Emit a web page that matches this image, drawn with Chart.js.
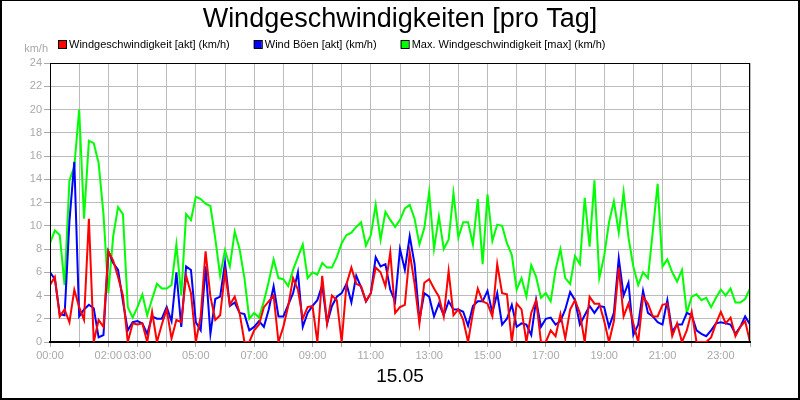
<!DOCTYPE html>
<html>
<head>
<meta charset="utf-8">
<script src="https://cdn.jsdelivr.net/npm/chart.js@4.4.1/dist/chart.umd.min.js"></script>
<style>
html,body{margin:0;padding:0;background:#fff;}
#wrap{width:800px;height:400px;position:relative;}
</style>
</head>
<body>
<div id="wrap"><canvas id="c" width="800" height="400"></canvas></div>
<script>
// ---- data ----
const titleText = 'Windgeschwindigkeiten [pro Tag]';
const dateLabel = '15.05';
const unitLabel = 'km/h';
const seriesNames = [
  'Windgeschwindigkeit [akt] (km/h)',
  'Wind Böen [akt] (km/h)',
  'Max. Windgeschwindigkeit [max] (km/h)'
];
const seriesColors = ['#ff0000', '#0000ff', '#00ff00'];
const stepMinutes = 10;                       // one value every 10 minutes, 00:00 .. 24:00
const labeledHours = [0, 2, 3, 5, 7, 9, 11, 13, 15, 17, 19, 21, 23];
const yMax = 24, yStep = 2;

const windAkt = [
  4.9,5.6,2.2,2.8,1.7,4.5,3.0,1.9,10.6,0,1.9,1.3,
  7.8,7.0,5.6,4.0,0,1.6,1.5,1.6,0,2.6,0,1.5,
  2.8,0.3,1.9,1.7,5.7,4.2,0,2.2,7.8,3.9,1.9,2.3,
  6.0,3.2,3.9,2.5,0,0,1.0,1.5,3.0,3.5,4.0,0,
  1.3,3.1,5.5,4.5,2.0,3.0,3.1,0,5.7,1.6,4.0,3.6,
  0,5.0,6.4,5.0,4.8,3.5,4.2,6.4,6.0,4.8,7.7,2.5,
  3.0,3.2,7.7,5.0,1.6,5.1,5.4,4.6,3.9,2.2,6.1,2.3,
  2.8,1.9,0,2.5,4.6,3.5,3.3,2.2,6.7,4.2,4.1,0,
  3.3,2.8,0,2.5,3.6,0,0,1.0,0.5,2.4,0.3,2.8,
  3.6,2.5,0,3.9,3.3,3.3,1.8,0,1.8,6.4,2.2,3.3,
  1.6,0,3.9,3.3,2.2,2.2,3.2,3.3,0.5,1.6,0,1.0,
  2.6,0,0,0,0.4,1.6,2.6,1.6,2.1,0.5,1.3,1.8,
  0
];
const windBoeen = [
  6.0,5.4,2.4,2.3,10.4,15.5,2.2,2.8,3.2,2.9,0.4,0.6,
  7.8,6.8,6.2,3.5,1.0,1.7,1.8,1.6,0.7,2.2,2.0,2.0,
  3.0,1.8,6.0,1.3,6.5,6.2,1.7,1.0,6.5,0.7,3.7,3.9,
  6.8,3.1,3.4,2.5,2.4,1.0,1.3,1.8,1.3,2.8,4.8,2.2,
  2.2,3.2,4.2,6.0,1.3,2.5,3.1,3.6,4.9,1.6,3.1,3.9,
  4.2,5.0,3.4,5.7,4.7,3.5,4.2,7.3,6.5,6.7,4.5,3.5,
  8.0,6.2,9.1,6.7,1.9,4.2,3.9,2.2,3.3,2.3,3.5,2.8,
  2.8,2.6,1.4,3.1,3.5,3.5,4.4,2.5,4.2,1.5,2.0,3.2,
  1.3,1.6,1.5,0.6,3.6,1.3,2.0,2.1,1.5,1.8,2.8,4.3,
  3.6,1.5,2.3,3.1,2.5,3.1,3.0,1.3,2.5,7.2,4.0,5.1,
  0.6,1.5,4.4,2.5,2.2,1.7,1.5,3.6,0.9,1.5,1.5,2.5,
  2.3,1.0,0.7,0.5,1.0,1.6,1.7,1.6,1.5,0.7,1.3,2.2,
  1.5
];
const windMax = [
  8.5,9.6,9.2,4.9,13.9,15.1,20.0,10.6,17.3,17.1,15.4,11.0,
  4.2,9.1,11.6,11.0,3.0,2.1,3.0,4.1,2.3,3.7,5.0,4.6,
  4.6,4.9,8.4,4.0,11.0,10.5,12.5,12.3,11.9,11.7,8.9,5.7,
  7.9,6.5,9.5,8.0,5.5,2.0,2.5,2.1,3.5,5.2,7.1,5.5,
  5.4,4.8,6.2,7.3,8.4,5.5,6.0,5.8,6.8,6.4,6.4,7.3,
  8.5,9.2,9.4,9.9,10.3,8.3,9.2,11.8,8.8,11.2,10.5,9.9,
  10.5,11.5,11.8,10.6,8.4,9.8,12.9,8.0,10.8,8.0,8.8,12.8,
  9.0,10.3,10.3,8.4,12.3,6.7,12.7,8.7,10.1,10.0,8.5,7.5,
  4.5,5.5,3.9,6.6,5.6,3.8,4.2,3.5,6.2,8.0,5.5,5.0,
  7.4,6.7,12.4,8.2,13.9,5.5,7.4,10.3,12.1,9.4,12.9,9.0,
  6.5,4.9,6.0,5.5,9.5,13.6,6.5,7.1,6.0,5.2,6.2,2.5,
  3.9,4.1,3.6,3.8,3.0,3.8,4.5,4.0,4.6,3.4,3.4,3.7,
  4.6
];

// ---- helpers ----
const FONT = 'Arial, "Liberation Sans", sans-serif';
const GRID = '#bcbcbc';
const TICKTXT = '#a9a9a9';
Chart.defaults.font.family = FONT;

function toPoints(arr) {
  return arr.map((v, i) => ({ x: i * stepMinutes / 60, y: v }));
}
function hourLabel(h) {
  return String(h).padStart(2, '0') + ':00';
}

const seriesValues = [windAkt, windBoeen, windMax];

const decor = {
  id: 'decor',
  beforeDraw(chart) {
    const ctx = chart.ctx;
    ctx.save();
    ctx.fillStyle = '#ffffff';
    ctx.fillRect(0, 0, chart.width, chart.height);
    ctx.restore();
  },
  afterDraw(chart) {
    const ctx = chart.ctx;
    const a = chart.chartArea;
    ctx.save();
    // plot frame (top/right)
    ctx.strokeStyle = '#000';
    ctx.lineWidth = 1;
    ctx.strokeRect(Math.round(a.left) + 0.5, Math.round(a.top) + 0.5,
                   Math.round(a.right - a.left) - 1, Math.round(a.bottom - a.top));
    // outer frame
    ctx.fillStyle = '#000';
    ctx.fillRect(0, 0, chart.width, 1);
    ctx.fillRect(0, 0, 2, chart.height);
    ctx.fillRect(chart.width - 2, 0, 2, chart.height);
    ctx.fillRect(0, chart.height - 2, chart.width, 2);
    // title
    ctx.fillStyle = '#000';
    ctx.font = '27px ' + FONT;
    ctx.textAlign = 'center';
    ctx.textBaseline = 'alphabetic';
    ctx.fillText(titleText, chart.width / 2, 27);
    // legend
    ctx.font = '11px ' + FONT;
    ctx.textAlign = 'left';
    let x = 58;
    chart.data.datasets.forEach(ds => {
      ctx.fillStyle = ds.borderColor;
      ctx.fillRect(x, 40, 8, 8);
      ctx.strokeStyle = '#000';
      ctx.lineWidth = 1;
      ctx.strokeRect(x + 0.5, 40.5, 8, 8);
      ctx.fillStyle = '#000';
      ctx.fillText(ds.label, x + 11, 48);
      x += 11 + ctx.measureText(ds.label).width + 24;
    });
    // unit
    ctx.fillStyle = TICKTXT;
    ctx.textAlign = 'right';
    ctx.fillText(unitLabel, 48, 52);
    ctx.restore();
  }
};

new Chart(document.getElementById('c').getContext('2d'), {
  type: 'line',
  data: {
    datasets: seriesNames.map((name, k) => ({
      label: name,
      data: toPoints(seriesValues[k]),
      borderColor: seriesColors[k],
      backgroundColor: seriesColors[k],
      borderWidth: 2,
      pointRadius: 0,
      tension: 0,
      fill: false
    }))
  },
  options: {
    responsive: false,
    animation: false,
    layout: { padding: { top: 63, right: 50, left: 0, bottom: 0 } },
    plugins: {
      legend: { display: false },
      title: { display: false },
      tooltip: { enabled: false }
    },
    scales: {
      x: {
        type: 'linear',
        min: 0, max: 24,
        afterFit(s) { s.height = 58; },
        ticks: {
          stepSize: 1, autoSkip: false, maxRotation: 0,
          color: TICKTXT, font: { size: 11 }, padding: 2,
          callback: v => labeledHours.includes(v) ? hourLabel(v) : ''
        },
        grid: { color: GRID, tickColor: TICKTXT, tickLength: 5, lineWidth: 1 },
        border: { color: '#000', width: 2 },
        title: {
          display: true, text: dateLabel, color: '#000',
          font: { size: 19 }, padding: { top: 0, bottom: 12 }
        }
      },
      y: {
        min: 0, max: yMax,
        afterFit(s) { s.width = 50; },
        ticks: { stepSize: yStep, color: TICKTXT, font: { size: 11 }, padding: 2 },
        grid: { color: GRID, tickColor: TICKTXT, tickLength: 6, lineWidth: 1 },
        border: { color: '#000', width: 1 }
      }
    }
  },
  plugins: [decor]
});
</script>
</body>
</html>
